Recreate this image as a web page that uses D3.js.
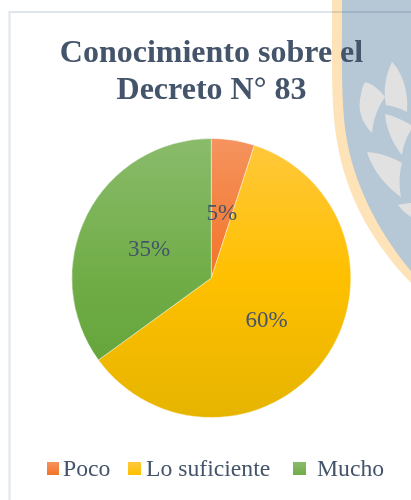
<!DOCTYPE html>
<html><head><meta charset="utf-8">
<script src="https://cdn.jsdelivr.net/npm/d3@7/dist/d3.min.js"></script>
<style>html,body{margin:0;padding:0;background:#fff}svg{display:block}</style>
</head><body><svg id="c" width="411" height="500"></svg>
<script>
const categories = ["Poco", "Lo suficiente", "Mucho"];
const values = [5, 60, 35];
const labels = ["5%", "60%", "35%"];
const titleLines = ["Conocimiento sobre el", "Decreto N° 83"];
const baseColors = ["#f37428", "#ffc000", "#70ad47"];
const lightColors = ["#f5935f", "#ffc83d", "#8abb6b"];
const darkColors = ["#d8651f", "#e6b400", "#5f9e34"];

const svg = d3.select("#c");
const W = 411, H = 500, cx = 211.3, cy = 278, R = 139.5, ink = "#44546a";
const defs = svg.append("defs");

// watermark shield behind the chart
const bg = svg.append("g");
bg.append("path").attr("fill", "#fee3b8")
  .attr("d", "M332,0 C332,60 331,100 336,135 C343,185 365,235 411,283 L411,0 Z");
bg.append("path").attr("fill", "#b6c7d6")
  .attr("d", "M342,0 C342,60 341,100 346,135 C353,180 375,228 411,271 L411,0 Z");
const leaves = [
  "M392,62 C402,72 409,92 407,112 C400,108 393,106 386,105 C383,92 385,76 392,62 Z",
  "M365,82 C373,84 380,90 385,97 C378,107 373,120 372,133 C363,124 358,112 360,100 C361,93 362,87 365,82 Z",
  "M385,114 C394,116 403,120 411,125 L411,130 C406,138 403,146 402,155 C393,144 386,129 385,114 Z",
  "M367,152 C380,153 392,157 402,163 C399,174 399,186 401,197 C388,188 373,172 367,152 Z",
  "M398,205 C402,204 407,203 411,203 L411,217 C406,214 402,210 398,205 Z"
];
bg.selectAll("path.leaf").data(leaves).join("path")
  .attr("class", "leaf").attr("fill", "#e1e1e1").attr("d", d => d);

// chart frame
svg.append("path").attr("fill", "none").attr("stroke", "#dfe5eb").attr("stroke-width", 2)
  .style("mix-blend-mode", "multiply")
  .attr("d", `M9.5,${H} V12 H${W}`);

// gradients (user space of the translated pie group)
const slug = i => "g" + i;
categories.forEach((c, i) => {
  const g = defs.append("linearGradient").attr("id", slug(i))
    .attr("gradientUnits", "userSpaceOnUse")
    .attr("x1", 0).attr("x2", 0).attr("y1", -R).attr("y2", R);
  g.append("stop").attr("offset", "0%").attr("stop-color", lightColors[i]);
  g.append("stop").attr("offset", "50%").attr("stop-color", baseColors[i]);
  g.append("stop").attr("offset", "100%").attr("stop-color", darkColors[i]);
  const s = defs.append("linearGradient").attr("id", "s" + i)
    .attr("x1", 0).attr("x2", 0).attr("y1", 0).attr("y2", 1);
  s.append("stop").attr("offset", "0%").attr("stop-color", lightColors[i]);
  s.append("stop").attr("offset", "100%").attr("stop-color", baseColors[i]);
});

// pie
const pie = d3.pie().sort(null).value(d => d)(values);
const arc = d3.arc().innerRadius(0).outerRadius(R);
const gp = svg.append("g").attr("transform", `translate(${cx},${cy})`);
gp.selectAll("path").data(pie).join("path")
  .attr("d", arc)
  .attr("fill", (d, i) => `url(#${slug(i)})`)
  .attr("stroke", "#fff").attr("stroke-opacity", 0.6).attr("stroke-width", 0.7);

// data labels placed along each slice
const labelRadius = [0.48, 0.49, 0.5].map(f => f * R);
const labelNudge = [0, 1, 1.5];
gp.selectAll("text").data(pie).join("text")
  .attr("transform", (d, i) => {
    const [x, y] = d3.arc().innerRadius(labelRadius[i]).outerRadius(labelRadius[i]).centroid(d);
    return `translate(${x},${y + labelNudge[i]})`;
  })
  .attr("text-anchor", "middle").attr("dy", "0.34em")
  .attr("font-family", "'Liberation Serif', serif").attr("font-size", 23)
  .attr("fill", ink).text((d, i) => labels[i]);

// title
svg.selectAll("text.title").data(titleLines).join("text")
  .attr("class", "title").attr("x", 211.5).attr("y", (d, i) => 62 + i * 37)
  .attr("text-anchor", "middle")
  .attr("font-family", "'Liberation Serif', serif").attr("font-weight", "bold")
  .attr("font-size", 32).attr("fill", ink).text(d => d);

// legend
const swatchX = [47, 128, 293];
const textX = [63, 146, 317];
const lg = svg.selectAll("g.lg").data(categories).join("g").attr("class", "lg");
lg.append("rect").attr("x", (d, i) => swatchX[i]).attr("y", 462)
  .attr("width", (d, i) => i ? 13 : 12).attr("height", 13)
  .attr("fill", (d, i) => `url(#s${i})`);
lg.append("text").attr("x", (d, i) => textX[i]).attr("y", 476)
  .attr("font-family", "'Liberation Serif', serif").attr("font-size", 23.7)
  .attr("fill", ink).text(d => d);
</script></body></html>
